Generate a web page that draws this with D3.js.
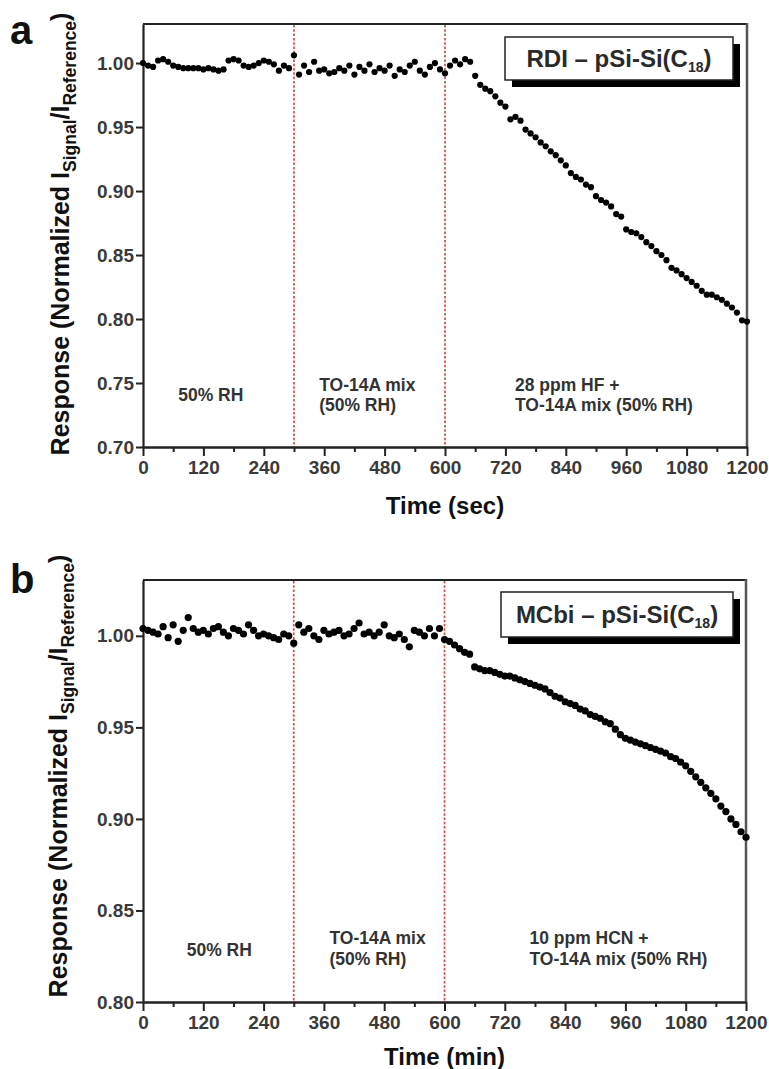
<!DOCTYPE html>
<html>
<head>
<meta charset="utf-8">
<script src="https://cdn.jsdelivr.net/npm/d3@7"></script>
<style>
  body { margin: 0; background: #fff; }
  svg { display: block; font-family: "Liberation Sans", Arial, sans-serif; }
</style>
</head>
<body>
<svg id="chart" width="769" height="1069"></svg>
<script>
// DATA
const timeSec = [
  0, 10, 20, 30, 40, 50, 60, 70, 80, 90, 100, 110, 120, 130, 140, 150, 160, 170, 180, 190,
  200, 210, 220, 230, 240, 250, 260, 270, 280, 290, 300, 310, 320, 330, 340, 350, 360, 370, 380, 390,
  400, 410, 420, 430, 440, 450, 460, 470, 480, 490, 500, 510, 520, 530, 540, 550, 560, 570, 580, 590,
  600, 610, 620, 630, 640, 650, 660, 670, 680, 690, 700, 710, 720, 730, 740, 750, 760, 770, 780, 790,
  800, 810, 820, 830, 840, 850, 860, 870, 880, 890, 900, 910, 920, 930, 940, 950, 960, 970, 980, 990,
  1000, 1010, 1020, 1030, 1040, 1050, 1060, 1070, 1080, 1090, 1100, 1110, 1120, 1130, 1140, 1150, 1160, 1170, 1180, 1190,
  1200
];

const responseA = [
  1.000, 0.998, 0.997, 1.002, 1.003, 1.001, 0.998, 0.997, 0.996, 0.996,
  0.996, 0.996, 0.995, 0.996, 0.995, 0.994, 0.995, 1.002, 1.003, 1.002,
  0.998, 0.997, 0.998, 1.000, 1.002, 1.001, 0.999, 0.994, 0.998, 0.996,
  1.006, 0.991, 0.998, 0.993, 1.001, 0.994, 0.995, 0.992, 0.993, 0.996,
  0.994, 0.998, 0.991, 0.997, 0.994, 0.999, 0.993, 0.996, 0.994, 0.998,
  0.990, 0.995, 0.993, 0.998, 1.001, 0.994, 0.991, 0.997, 1.000, 0.995,
  0.992, 0.998, 1.002, 0.999, 1.003, 1.001, 0.990, 0.983, 0.980, 0.978,
  0.974, 0.969, 0.966, 0.956, 0.958, 0.955, 0.948, 0.945, 0.942, 0.938,
  0.935, 0.931, 0.928, 0.924, 0.920, 0.914, 0.911, 0.909, 0.905, 0.903,
  0.896, 0.893, 0.891, 0.888, 0.882, 0.880, 0.870, 0.868, 0.867, 0.864,
  0.860, 0.857, 0.853, 0.850, 0.846, 0.840, 0.838, 0.835, 0.832, 0.829,
  0.826, 0.822, 0.819, 0.819, 0.817, 0.815, 0.812, 0.809, 0.805, 0.799,
  0.798
];

const responseB = [
  1.004, 1.003, 1.002, 1.001, 1.005, 0.999, 1.006, 0.997, 1.003, 1.010,
  1.004, 1.002, 1.003, 1.001, 1.004, 1.005, 1.002, 1.000, 1.004, 1.003,
  1.001, 1.006, 1.003, 1.000, 1.001, 1.000, 0.999, 0.998, 1.001, 1.000,
  0.996, 1.006, 1.002, 1.004, 1.000, 0.998, 1.003, 1.001, 1.002, 1.003,
  1.000, 1.001, 1.004, 1.007, 1.001, 1.002, 1.000, 1.002, 1.006, 1.000,
  0.999, 1.001, 0.998, 0.994, 1.003, 1.002, 1.000, 1.004, 1.000, 1.004,
  0.998, 0.997, 0.995, 0.993, 0.991, 0.990, 0.983, 0.982, 0.981, 0.981,
  0.980, 0.979, 0.978, 0.978, 0.977, 0.976, 0.975, 0.974, 0.973, 0.972,
  0.971, 0.969, 0.967, 0.966, 0.964, 0.963, 0.962, 0.960, 0.959, 0.957,
  0.956, 0.955, 0.953, 0.952, 0.949, 0.946, 0.944, 0.943, 0.942, 0.941,
  0.940, 0.939, 0.938, 0.937, 0.936, 0.934, 0.933, 0.931, 0.929, 0.926,
  0.923, 0.920, 0.917, 0.914, 0.911, 0.907, 0.904, 0.900, 0.897, 0.893,
  0.890
];

const xMajorTicks = [0, 120, 240, 360, 480, 600, 720, 840, 960, 1080, 1200];
const xMinorTicks = [60, 180, 300, 420, 540, 660, 780, 900, 1020, 1140];
const yTicksA = [0.70, 0.75, 0.80, 0.85, 0.90, 0.95, 1.00];
const yTicksB = [0.80, 0.85, 0.90, 0.95, 1.00];
const phaseBounds = [300, 600];

const annotationsA = [
  { t: 70, v: 0.736, lines: ["50% RH"] },
  { t: 350, v: 0.7435, lines: ["TO-14A mix", "(50% RH)"] },
  { t: 739, v: 0.7435, lines: ["28 ppm HF +", "TO-14A mix (50% RH)"] }
];
const annotationsB = [
  { t: 87, v: 0.8251, lines: ["50% RH"] },
  { t: 371, v: 0.8317, lines: ["TO-14A mix", "(50% RH)"] },
  { t: 769, v: 0.8317, lines: ["10 ppm HCN +", "TO-14A mix (50% RH)"] }
];

const svg = d3.select("#chart");

function drawPanel(opt) {
  const { left, right, top, bottom } = opt.box;
  const g = svg.append("g");

  const x = d3.scaleLinear().domain([0, 1200]).range([left, right]);
  const y = d3.scaleLinear().domain(opt.yDomain).range([bottom, top]);

  // frame (top / right)
  g.append("line")
    .attr("x1", left).attr("x2", right).attr("y1", top).attr("y2", top)
    .attr("stroke", "#222").attr("stroke-width", 2);
  g.append("line")
    .attr("x1", right).attr("x2", right).attr("y1", top - 1).attr("y2", bottom)
    .attr("stroke", "#555").attr("stroke-width", 2.5);

  // phase separators
  g.selectAll(".phase")
    .data(phaseBounds)
    .join("line")
    .attr("class", "phase")
    .attr("x1", (d) => x(d)).attr("x2", (d) => x(d))
    .attr("y1", top + 1).attr("y2", bottom)
    .attr("stroke", "#dd4a42")
    .attr("stroke-width", 1.7)
    .attr("stroke-dasharray", "2.5,1.8");

  // axes
  const yAxis = g.append("g")
    .attr("transform", `translate(${left},0)`)
    .call(d3.axisLeft(y).tickValues(opt.yTicks).tickFormat(d3.format(".2f")).tickSize(7).tickSizeOuter(0).tickPadding(2));
  const xMinor = g.append("g")
    .attr("transform", `translate(0,${bottom})`)
    .call(d3.axisBottom(x).tickValues(xMinorTicks).tickFormat("").tickSize(5).tickSizeOuter(0));
  const xAxis = g.append("g")
    .attr("transform", `translate(0,${bottom})`)
    .call(d3.axisBottom(x).tickValues(xMajorTicks).tickFormat(d3.format("d")).tickSize(9).tickSizeOuter(0).tickPadding(5));

  [yAxis, xAxis, xMinor].forEach((a) => {
    a.select(".domain").attr("stroke", "#222").attr("stroke-width", 2.2);
    a.selectAll(".tick line").attr("stroke", "#222").attr("stroke-width", 2);
    a.selectAll(".tick text")
      .attr("fill", "#3a3a3a")
      .style("font-size", "19px")
      .style("font-weight", "bold");
  });

  // data points
  g.append("g")
    .selectAll("circle")
    .data(timeSec.map((t, i) => ({ t, v: opt.values[i] })))
    .join("circle")
    .attr("cx", (d) => x(d.t))
    .attr("cy", (d) => y(d.v))
    .attr("r", opt.dotR)
    .attr("fill", "#000");

  // phase annotations
  opt.annotations.forEach((a) => {
    const txt = g.append("text")
      .attr("x", x(a.t))
      .attr("y", y(a.v))
      .attr("fill", "#333")
      .style("font-size", "17.5px")
      .style("font-weight", "bold");
    txt.selectAll("tspan")
      .data(a.lines)
      .join("tspan")
      .attr("x", x(a.t))
      .attr("dy", (d, i) => (i === 0 ? 0 : opt.lineGap))
      .text((d) => d);
  });

  // legend box with shadow
  const lb = opt.legendBox;
  g.append("rect")
    .attr("x", lb.x + 7).attr("y", lb.y + 7).attr("width", lb.w).attr("height", lb.h)
    .attr("fill", "#000");
  g.append("rect")
    .attr("x", lb.x).attr("y", lb.y).attr("width", lb.w).attr("height", lb.h)
    .attr("fill", "#fff").attr("stroke", "#222").attr("stroke-width", 1.5);
  const lt = g.append("text")
    .attr("x", lb.x + lb.w / 2)
    .attr("y", lb.y + lb.h / 2 + 8)
    .attr("text-anchor", "middle")
    .attr("fill", "#2a2a2a")
    .style("font-size", "24px")
    .style("font-weight", "bold");
  lt.append("tspan").text(opt.legendLabel + " \u2013 pSi-Si(C");
  lt.append("tspan").attr("dy", 5).style("font-size", "14px").text("18");
  lt.append("tspan").attr("dy", -5).text(")");

  // x title
  g.append("text")
    .attr("x", (left + right) / 2)
    .attr("y", opt.xTitleY)
    .attr("text-anchor", "middle")
    .attr("fill", "#111")
    .style("font-size", "24px")
    .style("font-weight", "bold")
    .text(opt.xTitle);

  // y title
  const yt = g.append("text")
    .attr("transform", `translate(${opt.yTitleX},${opt.yTitleMid}) rotate(-90)`)
    .attr("text-anchor", "middle")
    .attr("fill", "#111")
    .style("font-size", "25px")
    .style("font-weight", "bold");
  yt.append("tspan").text("Response (Normalized I");
  yt.append("tspan").attr("dy", 7).style("font-size", "17.5px").text("Signal");
  yt.append("tspan").attr("dy", -7).text("/I");
  yt.append("tspan").attr("dy", 7).style("font-size", "17.5px").text("Reference");
  yt.append("tspan").attr("dy", -7).text(")");

  // panel letter
  g.append("text")
    .attr("x", opt.letterPos[0])
    .attr("y", opt.letterPos[1])
    .attr("fill", "#111")
    .style("font-size", "40px")
    .style("font-weight", "bold")
    .text(opt.letter);
}

drawPanel({
  box: { left: 143, right: 747, top: 24, bottom: 447 },
  yDomain: [0.70, 1.0305],
  yTicks: yTicksA,
  values: responseA,
  dotR: 3.1,
  annotations: annotationsA,
  lineGap: 20,
  legendBox: { x: 505, y: 37, w: 228, h: 43 },
  legendLabel: "RDI",
  xTitle: "Time (sec)",
  xTitleY: 514,
  yTitleX: 69,
  yTitleMid: 234,
  letter: "a",
  letterPos: [10, 44]
});

drawPanel({
  box: { left: 143, right: 746, top: 580, bottom: 1002 },
  yDomain: [0.80, 1.0305],
  yTicks: yTicksB,
  values: responseB,
  dotR: 3.6,
  annotations: annotationsB,
  lineGap: 21,
  legendBox: { x: 501, y: 592, w: 232, h: 45 },
  legendLabel: "MCbi",
  xTitle: "Time (min)",
  xTitleY: 1065,
  yTitleX: 67,
  yTitleMid: 776,
  letter: "b",
  letterPos: [10, 593]
});
</script>
</body>
</html>
